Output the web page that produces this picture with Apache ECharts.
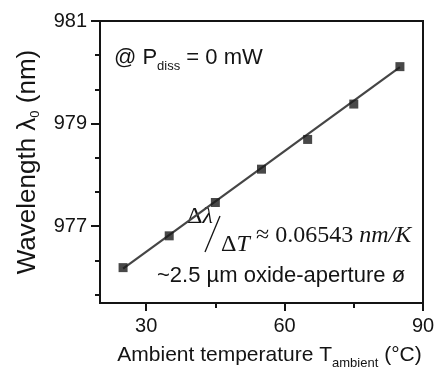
<!DOCTYPE html>
<html>
<head>
<meta charset="utf-8">
<script src="https://cdn.jsdelivr.net/npm/echarts@6/dist/echarts.min.js"></script>
<style>html,body{margin:0;padding:0;background:#fff;}#c{width:439px;height:371px;}</style>
</head>
<body>
<div id="c"></div>
<script>
// Data
var temperatures = [25, 35, 45, 55, 65, 75, 85];
var wavelengths = [976.19, 976.81, 977.46, 978.11, 978.69, 979.38, 980.11];
var fitTemps = [25, 85];
var fitWavelengths = [976.17, 980.10];
var xMajorTicks = [30, 60, 90];
var xMinorTicks = [45, 75];
var yMajorTicks = [977, 979, 981];
var yMinorTicks = [975.667, 976.333, 977.667, 978.333, 979.667, 980.333];

var SANS = '"Liberation Sans", Arial, sans-serif';
var SERIF = '"Liberation Serif", "Times New Roman", serif';
var INK = '#141414';

var chart = echarts.init(document.getElementById('c'), null, {renderer: 'canvas'});

function zip(a, b) { return a.map(function (v, i) { return [v, b[i]]; }); }

var option = {
  animation: false,
  backgroundColor: '#fff',
  grid: {left: 100, top: 21, right: 16, bottom: 68, show: true, borderColor: INK, borderWidth: 2,
    containLabel: false, outerBoundsMode: 'none'},
  xAxis: [{
    type: 'value', min: 20, max: 90,
    axisLine: {show: true, lineStyle: {color: INK, width: 2}},
    axisTick: {show: true, length: 8, inside: false, lineStyle: {color: INK, width: 2}, customValues: xMajorTicks},
    axisLabel: {show: true, customValues: xMajorTicks, fontFamily: SANS, fontSize: 20, color: INK, margin: 13},
    splitLine: {show: false},
    name: 'Ambient temperature T{sub|ambient} (°C)',
    nameLocation: 'middle', nameGap: 37,
    nameTextStyle: {fontFamily: SANS, fontSize: 21, color: INK, padding: [0, 0, 0, 16],
      rich: {sub: {fontFamily: SANS, fontSize: 13, color: INK, padding: [17, 0, 0, 0]}}}
  }, {
    type: 'value', min: 20, max: 90, position: 'bottom', gridIndex: 0,
    axisLine: {show: false},
    axisTick: {show: true, length: 5, lineStyle: {color: INK, width: 2}, customValues: xMinorTicks},
    axisLabel: {show: false},
    splitLine: {show: false}
  }],
  yAxis: [{
    type: 'value', min: 975.5, max: 981,
    axisLine: {show: true, lineStyle: {color: INK, width: 2}},
    axisTick: {show: true, length: 9, lineStyle: {color: INK, width: 2}, customValues: yMajorTicks},
    axisLabel: {show: true, customValues: yMajorTicks, fontFamily: SANS, fontSize: 20, color: INK, margin: 13},
    splitLine: {show: false},
    name: 'Wavelength λ{sub|0} (nm)',
    nameLocation: 'middle', nameRotate: 90, nameGap: 58,
    nameTextStyle: {fontFamily: SANS, fontSize: 26, color: INK,
      rich: {sub: {fontFamily: SANS, fontSize: 13, color: INK, padding: [15, 0, 0, 0]}}}
  }, {
    type: 'value', min: 975.5, max: 981, position: 'left',
    axisLine: {show: false},
    axisTick: {show: true, length: 5, lineStyle: {color: INK, width: 2}, customValues: yMinorTicks},
    axisLabel: {show: false},
    splitLine: {show: false}
  }],
  series: [{
    type: 'line', name: 'fit', data: zip(fitTemps, fitWavelengths),
    showSymbol: false, symbol: 'none',
    lineStyle: {color: '#454545', width: 2.2}, z: 2, silent: true
  }, {
    type: 'scatter', name: 'measured', data: zip(temperatures, wavelengths),
    symbol: 'rect', symbolSize: 9,
    itemStyle: {color: '#1a1a1a'}, z: 3
  }],
  graphic: [
    {type: 'text', left: 114, top: 47, style: {
      text: '@ P{sub|diss} = 0 mW', font: '22px ' + SANS, fill: INK,
      rich: {sub: {fontFamily: SANS, fontSize: 13, fill: INK, padding: [16, 0, 0, 0]}}}},
    {type: 'text', left: 187, top: 205, style: {text: 'Δ{i|λ}', font: '24px ' + SERIF, fill: INK,
      rich: {i: {fontFamily: SERIF, fontStyle: 'italic', fontSize: 24, fill: INK}}}},
    {type: 'line', shape: {x1: 220, y1: 216, x2: 205, y2: 252}, style: {stroke: INK, lineWidth: 1.3}},
    {type: 'text', left: 221, top: 233, style: {text: 'Δ{i|T}', font: '24px ' + SERIF, fill: INK,
      rich: {i: {fontFamily: SERIF, fontStyle: 'italic', fontSize: 24, fill: INK}}}},
    {type: 'text', left: 256, top: 224, style: {text: '≈ 0.06543 {i|nm/K}', font: '24px ' + SERIF, fill: INK,
      rich: {i: {fontFamily: SERIF, fontStyle: 'italic', fontSize: 24, fill: INK}}}},
    {type: 'text', left: 157, top: 265, style: {text: '~2.5 µm oxide-aperture ø', font: '22px ' + SANS, fill: INK}}
  ]
};
chart.setOption(option);
</script>
</body>
</html>
